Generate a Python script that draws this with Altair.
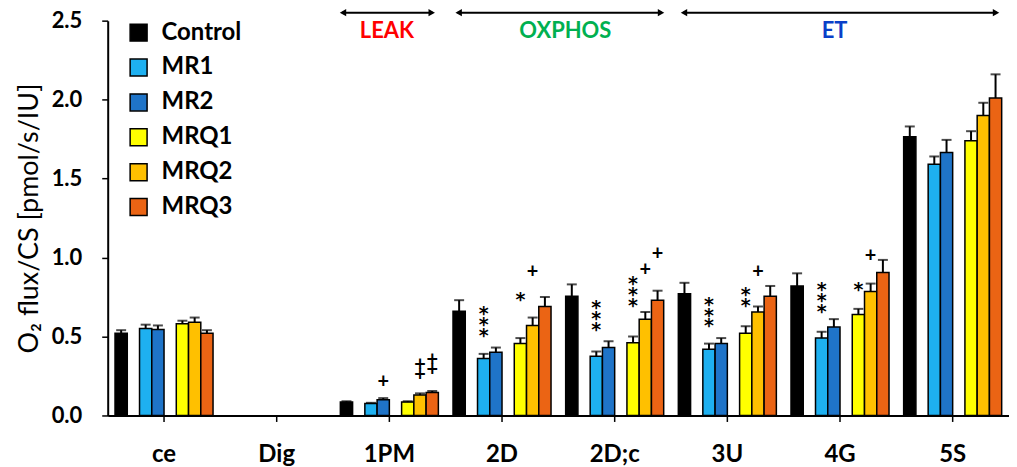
import altair as alt
import pandas as pd

categories = ["ce", "Dig", "1PM", "2D", "2D;c", "3U", "4G", "5S"]
series = ["Control", "MR1", "MR2", "MRQ1", "MRQ2", "MRQ3"]
colors = ["#000000", "#1EB0F0", "#1F74C8", "#FFFF00", "#FFC000", "#EB6414"]
slots = ["Control", "gap1", "MR1", "MR2", "gap2", "MRQ1", "MRQ2", "MRQ3"]

control = [0.52, None, 0.085, 0.66, 0.755, 0.77, 0.82, 1.765]
mr1 = [0.55, None, 0.075, 0.36, 0.375, 0.42, 0.49, 1.59]
mr2 = [0.545, None, 0.10, 0.40, 0.43, 0.455, 0.56, 1.665]
mrq1 = [0.58, None, 0.085, 0.455, 0.46, 0.52, 0.64, 1.74]
mrq2 = [0.59, None, 0.13, 0.57, 0.61, 0.655, 0.785, 1.90]
mrq3 = [0.52, None, 0.145, 0.69, 0.73, 0.755, 0.905, 2.01]

control_err = [0.02, None, 0.005, 0.07, 0.075, 0.07, 0.08, 0.065]
mr1_err = [0.025, None, 0.005, 0.03, 0.03, 0.035, 0.04, 0.05]
mr2_err = [0.025, None, 0.01, 0.03, 0.04, 0.035, 0.05, 0.08]
mrq1_err = [0.02, None, 0.005, 0.035, 0.04, 0.045, 0.035, 0.06]
mrq2_err = [0.03, None, 0.01, 0.05, 0.045, 0.035, 0.05, 0.08]
mrq3_err = [0.02, None, 0.01, 0.06, 0.06, 0.065, 0.08, 0.15]

# significance marks: category, series, symbol stack, value at the top symbol
ann_cat = ["1PM", "1PM", "1PM", "2D", "2D", "2D", "2D;c", "2D;c", "2D;c", "2D;c",
           "3U", "3U", "3U", "4G", "4G", "4G"]
ann_series = ["MR2", "MRQ2", "MRQ3", "MR1", "MRQ1", "MRQ2", "MR1", "MRQ1", "MRQ2", "MRQ3",
              "MR1", "MRQ1", "MRQ2", "MR1", "MRQ1", "MRQ2"]
ann_text = ["+", "+\n+", "+\n+", "*\n*\n*", "*", "+", "*\n*\n*", "*\n*\n*", "+", "+",
            "*\n*\n*", "*\n*", "+", "*\n*\n*", "*", "+"]
ann_y = [0.21, 0.32, 0.35, 0.68, 0.77, 0.91, 0.72, 0.87, 0.92, 1.02,
         0.74, 0.80, 0.91, 0.83, 0.835, 1.01]

values = [control, mr1, mr2, mrq1, mrq2, mrq3]
errors = [control_err, mr1_err, mr2_err, mrq1_err, mrq2_err, mrq3_err]

rows = []
for s, vals, errs in zip(series, values, errors):
    for c, v, e in zip(categories, vals, errs):
        if v is None:
            continue
        rows.append({"cat": c, "series": s, "val": v, "top": v + e})
df = pd.DataFrame(rows)

ann = pd.DataFrame({"cat": ann_cat, "series": ann_series, "text": ann_text, "y": ann_y})
ann["kind"] = ["star" if "*" in t else "plus" for t in ann_text]

FONT = "Lato"
TITLE = "O\u2082 flux/CS [pmol/s/IU]"

x_enc = alt.X(
    "cat:N", sort=categories,
    scale=alt.Scale(domain=categories, paddingInner=0.13, paddingOuter=0.065),
    axis=alt.Axis(title=None, labelAngle=0, labelFont=FONT, labelFontSize=24,
                  labelFontWeight="bold", labelColor="black", labelPadding=21,
                  domainColor="black", domainWidth=2, tickColor="black",
                  tickSize=6, tickWidth=1.5),
)
xo_enc = alt.XOffset("series:N", scale=alt.Scale(domain=slots, paddingInner=0, paddingOuter=0))

y_axis = alt.Axis(values=[0, 0.5, 1.0, 1.5, 2.0, 2.5], format=".1f", grid=False,
                  labelFont=FONT, labelFontSize=22, labelFontWeight="bold",
                  labelColor="black", labelPadding=20, domainColor="black",
                  domainWidth=2, tickColor="black", tickSize=6, tickWidth=1.5,
                  title=TITLE, titleFont=FONT, titleFontSize=27,
                  titleFontWeight="normal", titleColor="black", titlePadding=8)
y_scale = alt.Scale(domain=[0, 2.5], nice=False)


def yq(field):
    return alt.Y(field, scale=y_scale, axis=y_axis, title=TITLE)


bars = alt.Chart(df).mark_bar(stroke="black", strokeWidth=1.5).encode(
    x=x_enc, xOffset=xo_enc, y=yq("val:Q"),
    fill=alt.Fill("series:N", scale=alt.Scale(domain=series, range=colors),
                  legend=alt.Legend(title=None, orient="none", legendX=19, legendY=0,
                                    symbolType="square", symbolSize=289,
                                    symbolStrokeColor="black", symbolStrokeWidth=1.5,
                                    labelFont=FONT, labelFontSize=24,
                                    labelFontWeight="bold", labelColor="black",
                                    labelOffset=11, rowPadding=11)),
)

err_rule = alt.Chart(df).mark_rule(color="black", strokeWidth=2).encode(
    x=x_enc, xOffset=xo_enc, y=yq("val:Q"), y2="top:Q")
err_cap = alt.Chart(df).mark_tick(color="black", thickness=2, size=10).encode(
    x=x_enc, xOffset=xo_enc, y=yq("top:Q"))

stars = alt.Chart(ann).transform_filter(alt.datum.kind == "star").mark_text(
    font="DejaVu Sans", fontSize=19, fontWeight="bold", lineBreak="\n", lineHeight=11,
    baseline="middle", dy=6, color="black").encode(
    x=x_enc, xOffset=xo_enc, y=yq("y:Q"), text="text:N")
pluses = alt.Chart(ann).transform_filter(alt.datum.kind == "plus").mark_text(
    font=FONT, fontSize=20, fontWeight="bold", lineBreak="\n", lineHeight=10,
    baseline="middle", dy=0, color="black").encode(
    x=x_enc, xOffset=xo_enc, y=yq("y:Q"), text="text:N")

one = pd.DataFrame({"a": [0]})
AY = -8
arrow_specs = [(232, 329), (348, 559), (574, 895)]
arrow_layers = []
for x1, x2 in arrow_specs:
    arrow_layers.append(alt.Chart(one).mark_rule(color="black", strokeWidth=2).encode(
        x=alt.value(x1 + 3), x2=alt.value(x2 - 3), y=alt.value(AY)))
    arrow_layers.append(alt.Chart(one).mark_point(shape="triangle-left", filled=True,
                                                  size=55, color="black", opacity=1).encode(
        x=alt.value(x1 + 4), y=alt.value(AY)))
    arrow_layers.append(alt.Chart(one).mark_point(shape="triangle-right", filled=True,
                                                  size=55, color="black", opacity=1).encode(
        x=alt.value(x2 - 4), y=alt.value(AY)))

label_specs = [("LEAK", 280, "#FF0000"), ("OXPHOS", 459, "#00B050"), ("ET", 729, "#0A3FC8")]
label_layers = [
    alt.Chart(one).mark_text(text=t, font=FONT, fontSize=22, fontWeight="bold",
                             color=c, baseline="middle").encode(
        x=alt.value(px), y=alt.value(10))
    for t, px, c in label_specs
]

chart = alt.layer(bars, err_rule, err_cap, stars, pluses, *arrow_layers, *label_layers).properties(
    width=904, height=396,
    autosize=alt.AutoSizeParams(type="none"),
    padding={"left": 100, "top": 12, "right": 0, "bottom": 50},
).configure_view(stroke=None)

chart.save("out.html", embed_options={"renderer": "svg", "actions": False})
